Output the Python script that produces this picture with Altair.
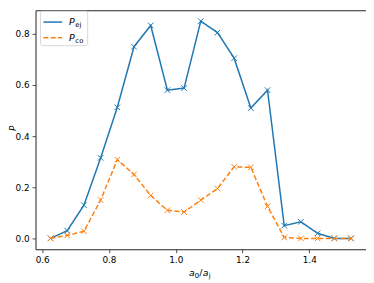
import altair as alt
import pandas as pd

x_vals = [0.625, 0.675, 0.725, 0.775, 0.825, 0.875, 0.925, 0.975, 1.025, 1.075,
          1.125, 1.175, 1.225, 1.275, 1.325, 1.375, 1.425, 1.475, 1.525]
p_ej = [0.0, 0.03, 0.13, 0.315, 0.513, 0.75, 0.833, 0.58, 0.588, 0.85,
        0.805, 0.705, 0.51, 0.58, 0.05, 0.065, 0.02, 0.0, 0.0]
p_co = [0.0, 0.012, 0.028, 0.15, 0.308, 0.25, 0.168, 0.11, 0.103, 0.15,
        0.195, 0.28, 0.278, 0.125, 0.004, 0.0, 0.0, 0.0, 0.0]
x_ticks = [0.6, 0.8, 1.0, 1.2, 1.4]
y_ticks = [0.0, 0.2, 0.4, 0.6, 0.8]
legend_main = ["P", "P"]
legend_sub = ["ej", "co"]

BLUE = "#1f77b4"
ORANGE = "#ff7f0e"
FONT = "DejaVu Sans"
W, H = 336, 243

df = pd.DataFrame({"x": x_vals, "ej": p_ej, "co": p_co})

xenc = alt.X("x:Q", scale=alt.Scale(domain=[0.58, 1.57], nice=False, zero=False),
             axis=alt.Axis(values=x_ticks, format=".1f", title=None))
def yenc(col):
    return alt.Y(f"{col}:Q", scale=alt.Scale(domain=[-0.0425, 0.8925], nice=False, zero=False),
                 axis=alt.Axis(values=y_ticks, format=".1f", title=None))

xshape = "M-1,-1L1,1M-1,1L1,-1"
base = alt.Chart(df)
line_ej = base.mark_line(color=BLUE, strokeWidth=1.5).encode(x=xenc, y=yenc("ej"))
pts_ej = base.mark_point(shape=xshape, size=32, filled=False, color=BLUE, strokeWidth=1, opacity=1).encode(x=xenc, y=yenc("ej"))
line_co = base.mark_line(color=ORANGE, strokeWidth=1.5, strokeDash=[5, 2.5]).encode(x=xenc, y=yenc("co"))
pts_co = base.mark_point(shape=xshape, size=32, filled=False, color=ORANGE, strokeWidth=1, opacity=1).encode(x=xenc, y=yenc("co"))

one = alt.Data(values=[{}])

legend_box = alt.Chart(one).mark_rect(cornerRadius=2, fill="white", fillOpacity=0.8,
                                     stroke="#cccccc", strokeWidth=0.8).encode(
    x=alt.value(5), x2=alt.value(53), y=alt.value(1), y2=alt.value(36))
leg_line1 = alt.Chart(one).mark_rule(color=BLUE, strokeWidth=1.5).encode(
    x=alt.value(8), x2=alt.value(27), y=alt.value(12))
leg_line2 = alt.Chart(one).mark_rule(color=ORANGE, strokeWidth=1.5, strokeDash=[5, 2.5]).encode(
    x=alt.value(8), x2=alt.value(27), y=alt.value(28))

def txt(s, x, y, size, style="normal", baseline="middle", align="left", angle=0):
    kw = dict(text=s, font=FONT, fontSize=size, fontStyle=style, baseline=baseline,
              align=align, color="black")
    if angle:
        kw["angle"] = angle
    return alt.Chart(one).mark_text(**kw).encode(x=alt.value(x), y=alt.value(y))

texts = [
    txt(legend_main[0], 34, 12, 9.5, "italic"),
    txt(legend_sub[0], 40.5, 15, 7),
    txt(legend_main[1], 34, 28, 9.5, "italic"),
    txt(legend_sub[1], 40.5, 31, 7),
    # x title a_0/a_j
    txt("a", 156, 267, 9.5, "italic"),
    txt("0", 162, 270, 7),
    txt("/", 166.5, 267, 9.5),
    txt("a", 170, 267, 9.5, "italic"),
    txt("j", 176, 270, 7),
    # y title
    txt("P", -23, 120, 9, "italic", baseline="middle", align="center", angle=270),
]

chart = alt.layer(line_ej, pts_ej, line_co, pts_co, legend_box, leg_line1, leg_line2, *texts).properties(
    width=W, height=H,
    autosize=alt.AutoSizeParams(type="none"),
    padding={"left": 28, "top": 0, "right": 0, "bottom": 32},
).configure_view(stroke="#222222", strokeWidth=1).configure_axis(
    grid=False, domain=False, tickColor="#222222", tickSize=3.5, tickWidth=0.8,
    labelFont=FONT, labelFontSize=9, labelColor="black", labelPadding=3,
).configure_axisY(labelPadding=3)

chart.save("out.html", embed_options={"renderer": "svg", "actions": False})
